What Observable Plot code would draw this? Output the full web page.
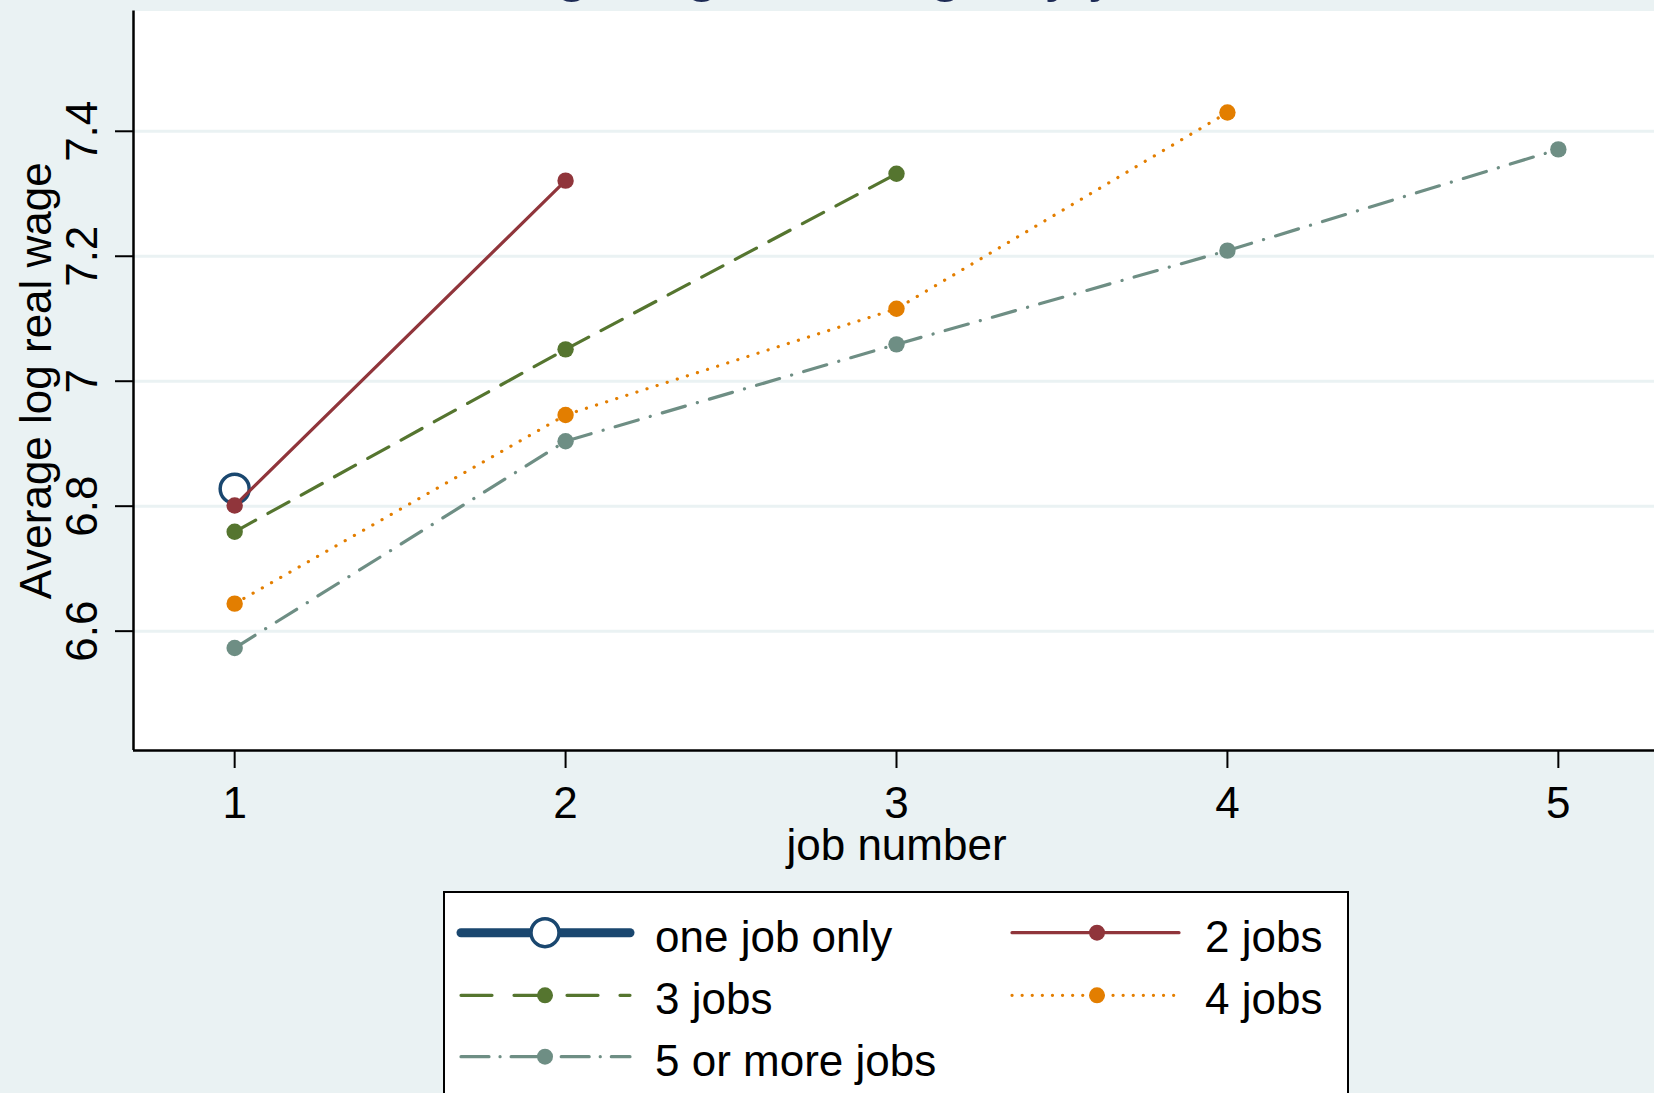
<!DOCTYPE html>
<html>
<head>
<meta charset="utf-8">
<script src="https://cdn.jsdelivr.net/npm/d3@7"></script>
<script src="https://cdn.jsdelivr.net/npm/@observablehq/plot@0.6"></script>
<style>
html,body{margin:0;padding:0;background:#EAF2F3;width:1654px;height:1093px;overflow:hidden;font-family:"Liberation Sans",Arial,sans-serif;}
#wrap{position:relative;width:1654px;height:1093px;overflow:hidden;}
#chart{position:absolute;left:0;top:0;width:1700px;}
#chart svg{max-width:none !important;}
#title{position:absolute;left:0;top:-60px;width:1792px;text-align:center;font-size:60px;line-height:60px;color:#1D2B55;white-space:nowrap;}
#legend{position:absolute;left:443px;top:891px;}
</style>
</head>
<body>
<div id="wrap">
  <div id="chart"></div>
  <div id="title"></div>
  <div id="legend"></div>
</div>
<script>
// ---- data ----
const titleText = "Average log real wage by job number";
const xLabel = "job number";
const yLabel = "Average log real wage";
const seriesNames = ["one job only", "2 jobs", "3 jobs", "4 jobs", "5 or more jobs"];
const oneJobOnly = [6.828];
const twoJobs = [6.801, 7.321];
const threeJobs = [6.759, 7.051, 7.332];
const fourJobs = [6.644, 6.946, 7.116, 7.430];
const fiveOrMoreJobs = [6.573, 6.904, 7.059, 7.209, 7.371];
const xTicks = [1, 2, 3, 4, 5];
const yTicks = [6.6, 6.8, 7, 7.2, 7.4];

// ---- styles ----
const colors = ["#1A476F", "#90353B", "#55752F", "#E37E00", "#6E8E84"];
const plotDash = [null, null, "24,14", "0.1,10.5", "24,12.5,0.1,12.5"];
const legendDash = [null, null, "31,22", "0.1,10", "28,11,0.1,11"];

const allSeries = [oneJobOnly, twoJobs, threeJobs, fourJobs, fiveOrMoreJobs];
const rows = allSeries.map((vals, i) => vals.map((v, k) => ({series: seriesNames[i], job: xTicks[k], wage: v})));

const xDomain = [0.6943, 5.3057];
const yDomain = [6.409, 7.5925];

const marks = [
  Plot.frame({fill: "white", stroke: "none"}),
  Plot.ruleY(yTicks, {stroke: "#EAF2F3", strokeWidth: 3}),
  // one job only: hollow circle
  Plot.dot(rows[0], {x: "job", y: "wage", r: 14.5, stroke: colors[0], strokeWidth: 3.5, fill: "white"})
];
for (let i = 1; i < rows.length; i++) {
  marks.push(Plot.line(rows[i], {x: "job", y: "wage", stroke: colors[i], strokeWidth: 3.2,
    strokeDasharray: plotDash[i] || undefined, strokeLinecap: "round", strokeLinejoin: "round"}));
  marks.push(Plot.dot(rows[i], {x: "job", y: "wage", r: 8.2, fill: colors[i], stroke: "none"}));
}
marks.push(
  Plot.ruleX([xDomain[0]], {stroke: "black", strokeWidth: 2.5}),
  Plot.ruleY([yDomain[0]], {stroke: "black", strokeWidth: 2.5}),
  Plot.axisX(xTicks, {tickSize: 18, tickPadding: 18, fontSize: 44, label: null, strokeWidth: 2, tickFormat: d => String(d)}),
  Plot.axisY(yTicks, {tickSize: 18, tickFormat: () => "", label: null, strokeWidth: 2}),
  Plot.text(yTicks, {y: d => d, text: d => String(d), frameAnchor: "left", dx: -51, rotate: -90,
    textAnchor: "middle", lineAnchor: "middle", fontSize: 44, fill: "black"}),
  Plot.text([yLabel], {text: d => d, frameAnchor: "left", dx: -97, rotate: -90, textAnchor: "middle",
    lineAnchor: "middle", fontSize: 44, fill: "black"}),
  Plot.text([xLabel], {text: d => d, frameAnchor: "bottom", dy: 78, lineAnchor: "top", fontSize: 44, fill: "black"})
);

const chart = Plot.plot({
  width: 1700,
  height: 891,
  marginLeft: 133,
  marginRight: 41,
  marginTop: 10.5,
  marginBottom: 141,
  x: {domain: xDomain, axis: null},
  y: {domain: yDomain, axis: null},
  style: {background: "transparent", fontFamily: "Liberation Sans, Arial, sans-serif", color: "black", overflow: "visible", maxWidth: "none"},
  marks
});
chart.style.maxWidth = "none";
chart.setAttribute("width", 1700);
document.getElementById("chart").appendChild(chart);
document.getElementById("title").textContent = titleText;

// ---- legend ----
const lg = d3.select("#legend").append("svg").attr("width", 920).attr("height", 210)
  .style("font-family", "Liberation Sans, Arial, sans-serif");
lg.append("rect").attr("x", 1).attr("y", 1).attr("width", 904).attr("height", 300)
  .attr("fill", "white").attr("stroke", "black").attr("stroke-width", 2);
const rowY = [41.7, 104.3, 165.7];
const colX = [{x1: 18, x2: 187, m: 102, t: 212}, {x1: 569, x2: 736, m: 654, t: 762}];
seriesNames.forEach((name, i) => {
  const r = Math.floor(i / 2), c = i % 2;
  const cx = colX[c], y = rowY[r];
  const g = lg.append("g");
  g.append("line").attr("x1", cx.x1).attr("x2", cx.x2).attr("y1", y).attr("y2", y)
    .attr("stroke", colors[i]).attr("stroke-width", i === 0 ? 9 : 3.2)
    .attr("stroke-linecap", "round")
    .attr("stroke-dasharray", legendDash[i]);
  if (i === 0) {
    g.append("circle").attr("cx", cx.m).attr("cy", y).attr("r", 14).attr("fill", "white")
      .attr("stroke", colors[i]).attr("stroke-width", 3.5);
  } else {
    g.append("circle").attr("cx", cx.m).attr("cy", y).attr("r", 8).attr("fill", colors[i]);
  }
  g.append("text").attr("x", cx.t).attr("y", y + 19).attr("font-size", 44).attr("fill", "black").text(name);
});
</script>
</body>
</html>
